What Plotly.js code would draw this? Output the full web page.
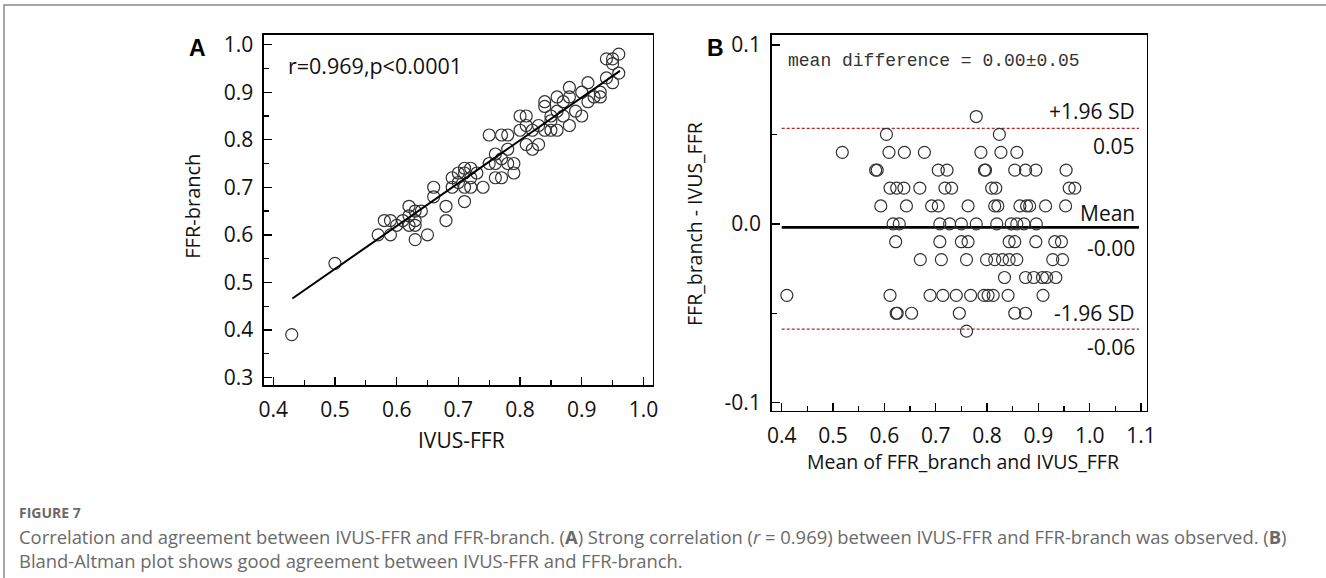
<!DOCTYPE html>
<html>
<head>
<meta charset="utf-8">
<script src="https://cdn.plot.ly/plotly-3.0.1.min.js"></script>
<style>html,body{margin:0;padding:0;background:#fff;} #chart{width:1326px;height:578px;}</style>
</head>
<body>
<div id="chart"></div>
<script>
// ---------- Panel A: correlation ----------
const ivusFFR = [0.43,0.50,0.57,0.58,0.59,0.59,0.60,0.61,0.62,0.62,0.62,0.63,0.63,0.63,0.63,0.64,0.65,0.66,0.66,0.68,0.68,0.69,0.69,0.70,0.70,0.71,0.71,0.71,0.71,0.72,0.72,0.72,0.73,0.74,0.75,0.75,0.76,0.76,0.76,0.77,0.77,0.77,0.78,0.78,0.78,0.79,0.79,0.80,0.80,0.81,0.81,0.81,0.82,0.82,0.83,0.83,0.84,0.84,0.84,0.85,0.85,0.85,0.86,0.86,0.86,0.87,0.87,0.88,0.88,0.88,0.89,0.90,0.90,0.91,0.91,0.92,0.93,0.93,0.94,0.94,0.95,0.95,0.96,0.96,0.95];
const ffrBranch = [0.39,0.54,0.60,0.63,0.63,0.60,0.62,0.63,0.66,0.64,0.62,0.65,0.63,0.62,0.59,0.65,0.60,0.70,0.68,0.66,0.63,0.72,0.70,0.73,0.71,0.74,0.73,0.70,0.67,0.72,0.70,0.74,0.73,0.70,0.81,0.75,0.77,0.72,0.75,0.81,0.72,0.76,0.81,0.78,0.75,0.75,0.73,0.85,0.82,0.83,0.85,0.79,0.82,0.78,0.83,0.79,0.88,0.87,0.82,0.85,0.84,0.82,0.89,0.86,0.82,0.88,0.85,0.91,0.89,0.83,0.86,0.90,0.85,0.92,0.88,0.89,0.89,0.90,0.97,0.93,0.96,0.92,0.98,0.94,0.97];
const fitX = [0.431, 0.962];
const fitY = [0.466, 0.945];
const ticksA_x = [0.4,0.5,0.6,0.7,0.8,0.9,1.0];
const ticksA_y = [0.3,0.4,0.5,0.6,0.7,0.8,0.9,1.0];

// ---------- Panel B: Bland-Altman ----------
const baMean = [
  0.779,
  0.604,0.824,
  0.518,0.609,0.639,0.678,0.788,0.827,0.858,
  0.583,0.586,0.705,0.722,0.795,0.797,0.854,0.875,0.895,0.954,
  0.611,0.624,0.638,0.669,0.718,0.731,0.809,0.817,0.960,0.971,
  0.593,0.643,0.692,0.705,0.763,0.815,0.821,0.864,0.877,0.883,0.914,0.953,
  0.617,0.629,0.708,0.727,0.750,0.779,0.819,0.847,0.858,0.872,0.896,
  0.622,0.708,0.750,0.763,0.843,0.854,0.895,0.932,0.945,
  0.670,0.711,0.760,0.799,0.815,0.830,0.843,0.858,0.928,0.947,
  0.834,0.875,0.891,0.908,0.916,0.934,
  0.410,0.611,0.689,0.714,0.740,0.768,0.794,0.802,0.812,0.841,0.909,
  0.623,0.625,0.653,0.746,0.854,0.875,
  0.760
];
const baDiff = [
  0.06,
  0.05,0.05,
  0.04,0.04,0.04,0.04,0.04,0.04,0.04,
  0.03,0.03,0.03,0.03,0.03,0.03,0.03,0.03,0.03,0.03,
  0.02,0.02,0.02,0.02,0.02,0.02,0.02,0.02,0.02,0.02,
  0.01,0.01,0.01,0.01,0.01,0.01,0.01,0.01,0.01,0.01,0.01,0.01,
  0,0,0,0,0,0,0,0,0,0,0,
  -0.01,-0.01,-0.01,-0.01,-0.01,-0.01,-0.01,-0.01,-0.01,
  -0.02,-0.02,-0.02,-0.02,-0.02,-0.02,-0.02,-0.02,-0.02,-0.02,
  -0.03,-0.03,-0.03,-0.03,-0.03,-0.03,
  -0.04,-0.04,-0.04,-0.04,-0.04,-0.04,-0.04,-0.04,-0.04,-0.04,-0.04,
  -0.05,-0.05,-0.05,-0.05,-0.05,-0.05,
  -0.06
];
const meanDiff = -0.002;
const upperLoA = 0.0534;
const lowerLoA = -0.0589;
const lineSpanB = [0.400, 1.096];
const ticksB_x = [0.4,0.5,0.6,0.7,0.8,0.9,1.0,1.1];
const ticksB_y = [-0.1, 0.0, 0.1];
const ticksB_yText = ['-0.1','0.0','0.1'];

// ---------- Texts ----------
const statTextA = 'r=0.969,p<0.0001';
const statTextB = 'mean difference = 0.00\u00b10.05';
const loaLabels = ['+1.96 SD','0.05','Mean','-0.00','-1.96 SD','-0.06'];
const captionHead = 'FIGURE 7';
const captionLine1 = 'Correlation and agreement between IVUS-FFR and FFR-branch. (<b>A</b>) Strong correlation (<i>r</i> = 0.969) between IVUS-FFR and FFR-branch was observed. (<b>B</b>)';
const captionLine2 = 'Bland-Altman plot shows good agreement between IVUS-FFR and FFR-branch.';

// ---------- Layout helpers ----------
const W = 1326, H = 578;
const px = v => v / W;
const py = v => 1 - v / H;
const tickFont = {family: 'Open Sans, sans-serif', size: 21, color: '#111'};
const markerStyle = {symbol: 'circle-open', size: 12, color: '#333', line: {width: 1.2, color: '#333'}};

const traces = [
  {x: ivusFFR, y: ffrBranch, type: 'scatter', mode: 'markers', marker: markerStyle, xaxis: 'x', yaxis: 'y', hoverinfo: 'skip'},
  {x: fitX, y: fitY, type: 'scatter', mode: 'lines', line: {color: '#000', width: 2}, xaxis: 'x', yaxis: 'y', hoverinfo: 'skip'},
  {x: lineSpanB, y: [upperLoA, upperLoA], type: 'scatter', mode: 'lines', line: {color: '#b02a2a', width: 1.1, dash: '3px,2px'}, xaxis: 'x2', yaxis: 'y2', hoverinfo: 'skip'},
  {x: lineSpanB, y: [lowerLoA, lowerLoA], type: 'scatter', mode: 'lines', line: {color: '#b02a2a', width: 1.1, dash: '3px,2px'}, xaxis: 'x2', yaxis: 'y2', hoverinfo: 'skip'},
  {x: lineSpanB, y: [meanDiff, meanDiff], type: 'scatter', mode: 'lines', line: {color: '#000', width: 2.8}, xaxis: 'x2', yaxis: 'y2', hoverinfo: 'skip'},
  {x: baMean, y: baDiff, type: 'scatter', mode: 'markers', marker: markerStyle, xaxis: 'x2', yaxis: 'y2', hoverinfo: 'skip'}
];

function axisBase(extra) {
  return Object.assign({
    showgrid: false, zeroline: false, showline: true, mirror: true,
    linecolor: '#000', linewidth: 1.6,
    ticks: 'inside', ticklen: 8, tickwidth: 1.4, tickcolor: '#000',
    tickfont: tickFont, tickmode: 'array', fixedrange: true,
    minor: {ticks: 'inside', ticklen: 5, tickwidth: 1.2, tickcolor: '#000', tickmode: 'linear', tick0: 0, dtick: 0.05, showgrid: false}
  }, extra);
}

const layout = {
  width: W, height: H,
  margin: {l: 0, r: 0, t: 0, b: 0},
  paper_bgcolor: '#fff', plot_bgcolor: '#fff',
  showlegend: false,
  xaxis: axisBase({domain: [px(264), px(652.7)], range: [0.385, 1.015], tickvals: ticksA_x, ticktext: ticksA_x.map(v => v.toFixed(1)), anchor: 'y', ticklabelstandoff: 5}),
  yaxis: axisBase({domain: [py(385), py(34.7)], range: [0.284, 1.021], tickvals: ticksA_y, ticktext: ticksA_y.map(v => v.toFixed(1)), anchor: 'x', ticklabelstandoff: 5}),
  xaxis2: axisBase({domain: [px(771.7), px(1146.7)], range: [0.3805, 1.111], tickvals: ticksB_x, ticktext: ticksB_x.map(v => v.toFixed(1)), anchor: 'y2', ticklabelstandoff: 5}),
  yaxis2: axisBase({domain: [py(410.7), py(35)], range: [-0.1045, 0.1056], tickvals: ticksB_y, ticktext: ticksB_yText, anchor: 'x2', ticklabelstandoff: 5}),
  shapes: [
    {type: 'rect', xref: 'paper', yref: 'paper', x0: px(4), x1: 1.02, y0: -0.02, y1: py(5), line: {color: '#8a8a8a', width: 1.5}, fillcolor: 'rgba(0,0,0,0)', layer: 'below'}
  ],
  annotations: []
};

function ann(text, x, y, o) {
  layout.annotations.push(Object.assign({
    text: text, xref: 'paper', yref: 'paper', x: px(x), y: py(y),
    showarrow: false, xanchor: 'center', yanchor: 'middle',
    font: {family: 'Open Sans, sans-serif', size: 20, color: '#111'}
  }, o || {}));
}

// Panel letters
ann('<b>A</b>', 197, 48, {font: {family: 'Liberation Sans, Arial, sans-serif', size: 23, color: '#000'}});
ann('<b>B</b>', 715, 48, {font: {family: 'Liberation Sans, Arial, sans-serif', size: 23, color: '#000'}});
// Axis titles
ann('IVUS-FFR', 461.7, 440, {font: {family: 'Open Sans, sans-serif', size: 21, color: '#111'}});
ann('FFR-branch', 191.7, 206, {textangle: -90, font: {family: 'Open Sans, sans-serif', size: 20, color: '#111'}});
ann('Mean of FFR_branch and IVUS_FFR', 963, 461.7, {font: {family: 'Open Sans, sans-serif', size: 19.5, color: '#111'}});
ann('FFR_branch - IVUS_FFR', 695, 224, {textangle: -90, font: {family: 'Open Sans, sans-serif', size: 19.5, color: '#111'}});
// Stats
ann(statTextA, 286, 65, {xanchor: 'left', font: {family: 'Open Sans, sans-serif', size: 21.5, color: '#111'}});
ann(statTextB, 786, 60.7, {xanchor: 'left', font: {family: 'Liberation Mono, DejaVu Sans Mono, monospace', size: 18, color: '#333'}});
// Limits-of-agreement labels (right aligned)
const loaY = [111, 146, 212.7, 248, 312.7, 346.7];
loaLabels.forEach((t, i) => ann(t, 1137, loaY[i], {xanchor: 'right', font: {family: 'Open Sans, sans-serif', size: 21, color: '#111'}}));
// Caption
ann('<b>' + captionHead + '</b>', 18, 512, {xanchor: 'left', borderpad: 0, font: {family: 'Open Sans, sans-serif', size: 14, color: '#6a6a6a'}});
ann(captionLine1 + '<br>' + captionLine2, 18, 548, {xanchor: 'left', align: 'left', borderpad: 0, font: {family: 'Open Sans, sans-serif', size: 18.4, color: '#6a6a6a'}});

Plotly.newPlot('chart', traces, layout, {staticPlot: true, displayModeBar: false});
</script>
</body>
</html>
